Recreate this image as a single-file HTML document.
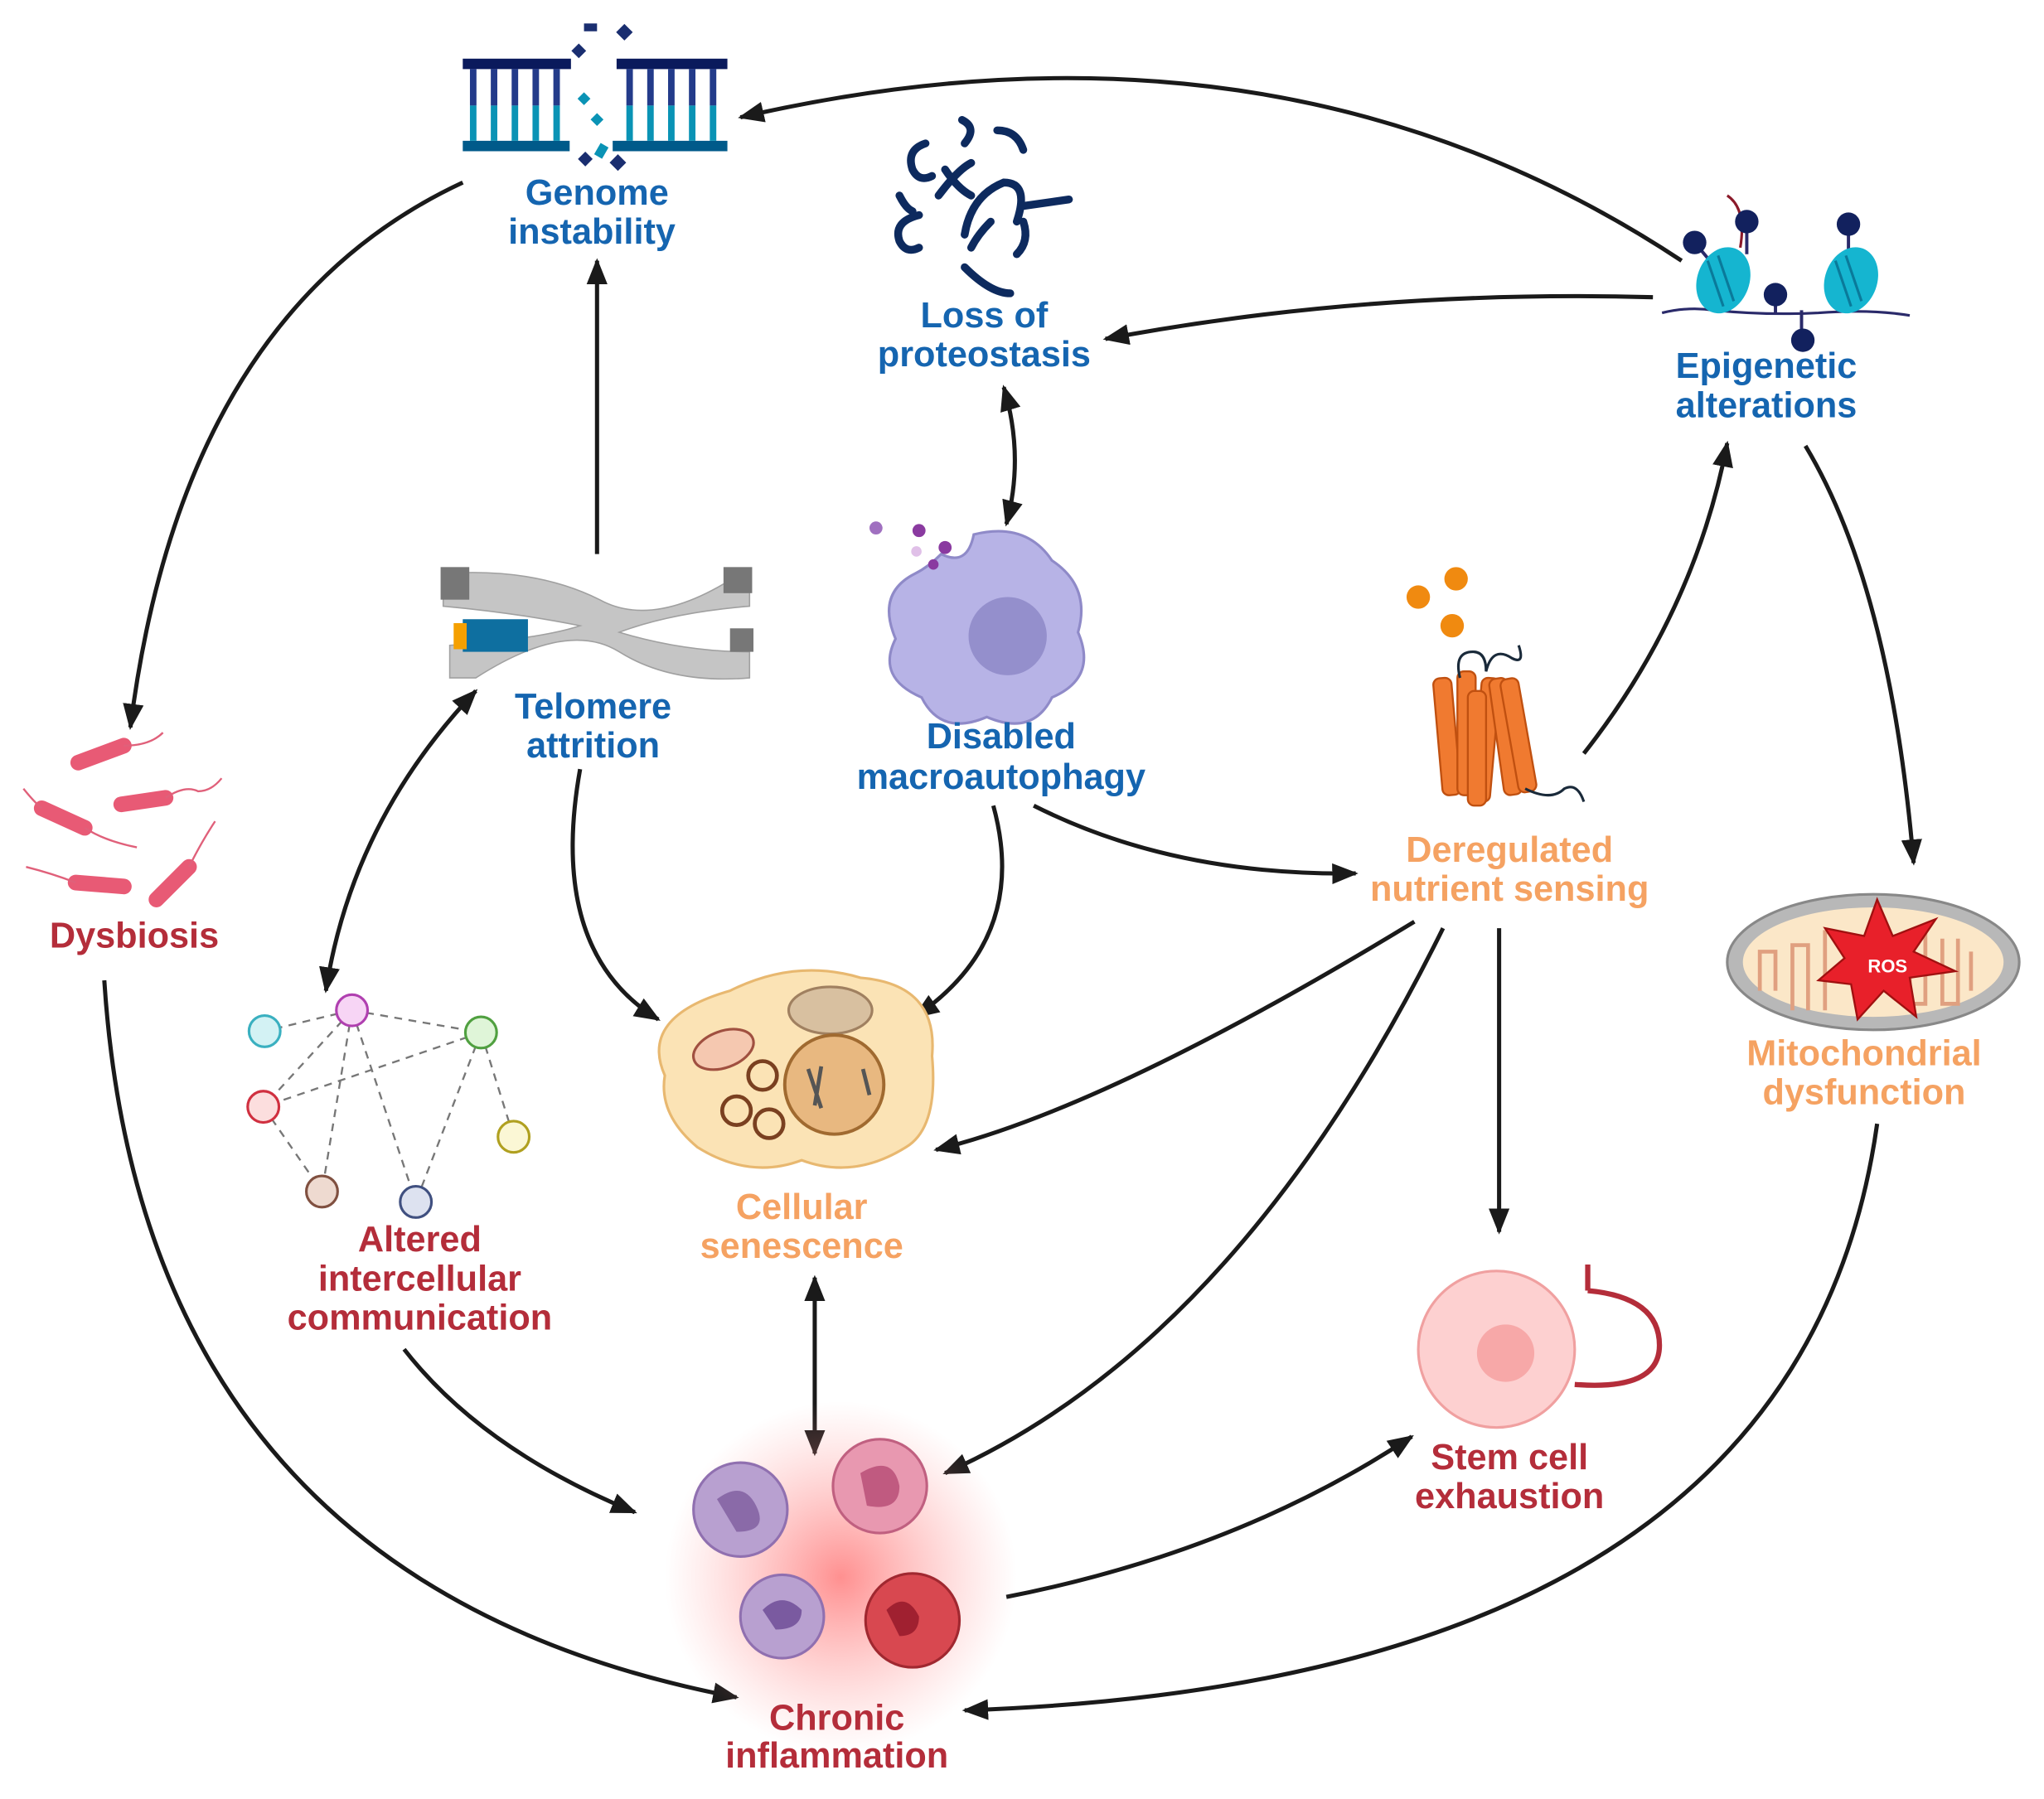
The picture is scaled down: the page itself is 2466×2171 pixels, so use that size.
<!DOCTYPE html>
<html><head><meta charset="utf-8"><style>
html,body{margin:0;padding:0;background:#fff;}
svg{display:block}
text{font-family:"Liberation Sans",Arial,sans-serif;font-weight:bold;font-size:27.5px;text-anchor:middle}
.b{fill:#1565b0}.o{fill:#f5a262}.r{fill:#b42d3a}
.a{fill:none;stroke:#1a1a1a;stroke-width:3.2}
</style></head><body>
<svg width="2466" height="2171" viewBox="0 0 1568 1380" preserveAspectRatio="none" xmlns="http://www.w3.org/2000/svg">
<defs>
<marker id="m" viewBox="0 0 20 20" refX="18" refY="10" markerWidth="20" markerHeight="20" orient="auto-start-reverse" markerUnits="userSpaceOnUse">
<path d="M0,2 L20,10 L0,18 z" fill="#1a1a1a"/></marker>
<radialGradient id="glow"><stop offset="0" stop-color="#ff6b6b" stop-opacity=".75"/><stop offset="1" stop-color="#ff9a9a" stop-opacity="0"/></radialGradient>
</defs>

<path class="a" d="M1290,200 Q980,-5 568,90" marker-end="url(#m)"/>
<path class="a" d="M355,140 Q140,240 100,558" marker-end="url(#m)"/>
<path class="a" d="M1268,228 Q1050,222 848,260" marker-end="url(#m)"/>
<path class="a" d="M458,425 L458,200" marker-end="url(#m)"/>
<path class="a" d="M770,297 Q786,350 772,402" marker-start="url(#m)" marker-end="url(#m)"/>
<path class="a" d="M1215,578 Q1300,470 1325,340" marker-end="url(#m)"/>
<path class="a" d="M1385,342 Q1450,450 1468,662" marker-end="url(#m)"/>
<path class="a" d="M365,530 Q270,630 250,760" marker-start="url(#m)" marker-end="url(#m)"/>
<path class="a" d="M445,590 Q420,730 505,782" marker-end="url(#m)"/>
<path class="a" d="M762,618 Q790,720 702,780" marker-end="url(#m)"/>
<path class="a" d="M793,618 Q900,672 1040,670" marker-end="url(#m)"/>
<path class="a" d="M1085,707 Q850,850 718,882" marker-end="url(#m)"/>
<path class="a" d="M1107,712 Q950,1030 725,1130" marker-end="url(#m)"/>
<path class="a" d="M1150,712 L1150,945" marker-end="url(#m)"/>
<path class="a" d="M625,980 L625,1115" marker-start="url(#m)" marker-end="url(#m)"/>
<path class="a" d="M310,1035 Q370,1112 487,1160" marker-end="url(#m)"/>
<path class="a" d="M80,752 Q110,1215 565,1302" marker-end="url(#m)"/>
<path class="a" d="M772,1225 Q950,1190 1083,1102" marker-end="url(#m)"/>
<path class="a" d="M1440,862 Q1380,1290 740,1312" marker-end="url(#m)"/>

<!-- DNA -->
<g>
<rect x="355" y="45" width="83" height="8" fill="#0a1a5c"/><rect x="473" y="45" width="85" height="8" fill="#0a1a5c"/>
<rect x="355" y="108" width="82" height="8" fill="#005a8a"/><rect x="470" y="108" width="88" height="8" fill="#005a8a"/>
<g stroke-width="5">
<path d="M363,53v28M379,53v28M395,53v28M411,53v28M427,53v28M483,53v28M499,53v28M515,53v28M531,53v28M547,53v28" stroke="#233b8a"/>
<path d="M363,81v27M379,81v27M395,81v27M411,81v27M427,81v27M483,81v27M499,81v27M515,81v27M531,81v27M547,81v27" stroke="#0a93b5"/>
</g>
<g fill="#0a93b5"><rect x="445" y="72" width="7" height="7" transform="rotate(45 448 75)"/><rect x="455" y="88" width="7" height="7" transform="rotate(45 458 91)"/><rect x="458" y="110" width="7" height="10" transform="rotate(30 460 115)"/></g>
<g fill="#1a2e70"><rect x="448" y="18" width="10" height="6"/><rect x="475" y="20" width="9" height="9" transform="rotate(45 479 24)"/><rect x="440" y="35" width="8" height="8" transform="rotate(45 444 39)"/><rect x="470" y="120" width="9" height="9" transform="rotate(45 474 124)"/><rect x="445" y="118" width="8" height="8" transform="rotate(45 449 122)"/></g>
</g>
<text class="b" x="458" y="157">Genome</text><text class="b" x="454" y="187">instability</text>

<g fill="none" stroke="#0d2a5e" stroke-width="6" stroke-linecap="round">
<path d="M710,110 q-15,5 -10,20 q5,10 15,5"/><path d="M740,110 q10,-12 -2,-18"/><path d="M765,100 q15,0 20,15"/>
<path d="M690,150 q5,10 10,12"/><path d="M720,150 q15,-20 25,-25"/><path d="M725,130 q10,15 20,20"/>
<path d="M740,180 q5,-30 30,-40 q20,0 10,30"/><path d="M785,158 l35,-5"/><path d="M705,165 q-20,5 -15,20 q5,10 15,5"/>
<path d="M760,170 q-10,10 -15,20"/><path d="M785,170 q5,15 -5,25"/><path d="M740,205 q20,20 35,20"/>
</g>
<text class="b" x="755" y="251">Loss of</text><text class="b" x="755" y="281">proteostasis</text>

<g>
<path d="M1275,240 q20,-5 40,-2 q40,4 80,2 q40,-3 70,2" fill="none" stroke="#2a2a6a" stroke-width="2"/>
<path d="M1325,150 q15,10 10,40" fill="none" stroke="#8b1a2a" stroke-width="2"/>
<g stroke="#2a2a6a" stroke-width="2.5"><path d="M1300,186 l15,18M1340,170 v25M1362,226 v14M1382,238 v22M1418,172 v25"/></g>
<ellipse cx="1322" cy="215" rx="20" ry="26" fill="#15b5d0" transform="rotate(20 1322 215)"/>
<ellipse cx="1420" cy="215" rx="20" ry="26" fill="#15b5d0" transform="rotate(20 1420 215)"/>
<g stroke="#0a7a9a" stroke-width="2" fill="none"><path d="M1310,200 l12,35M1318,196 l12,35M1408,200 l12,35M1416,196 l12,35"/></g>
<g fill="#12215e"><circle cx="1300" cy="186" r="9"/><circle cx="1340" cy="170" r="9"/><circle cx="1362" cy="226" r="9"/><circle cx="1383" cy="261" r="9"/><circle cx="1418" cy="172" r="9"/></g>
</g>
<text class="b" x="1355" y="290">Epigenetic</text><text class="b" x="1355" y="320">alterations</text>

<g>
<path d="M340,440 q70,-5 120,20 q40,22 100,-15 l15,0 l0,20 q-60,5 -100,20 q50,15 100,15 l0,20 q-60,5 -100,-20 q-40,-25 -110,20 l-20,0 l0,-25 q70,-5 100,-15 q-50,-10 -105,-15 z" fill="#c5c5c5" stroke="#a0a0a0"/>
<rect x="338" y="435" width="22" height="25" fill="#777"/><rect x="555" y="435" width="22" height="20" fill="#777"/><rect x="560" y="482" width="18" height="18" fill="#777"/>
<rect x="355" y="475" width="50" height="25" fill="#0e6fa0"/><rect x="348" y="478" width="10" height="20" fill="#f5a000"/>
</g>
<text class="b" x="455" y="551">Telomere</text><text class="b" x="455" y="581">attrition</text>

<g>
<path d="M722,425 q20,10 25,-15 q40,-10 60,20 q30,20 20,55 q15,35 -20,50 q-15,30 -50,15 q-35,15 -50,-15 q-35,-15 -20,-45 q-15,-35 15,-50 q10,-5 20,-15z" fill="#b7b3e6" stroke="#8f8ac8" stroke-width="2"/>
<circle cx="773" cy="488" r="30" fill="#948fcc"/>
<g fill="#8a3aa0"><circle cx="672" cy="405" r="5" fill="#a070c0"/><circle cx="705" cy="407" r="5"/><circle cx="725" cy="420" r="5"/><circle cx="703" cy="423" r="4" fill="#e0c0e8"/><circle cx="716" cy="433" r="4"/></g>
</g>
<text class="b" x="768" y="574">Disabled</text><text class="b" x="768" y="605">macroautophagy</text>

<g>
<circle cx="1088" cy="458" r="9" fill="#f08a10"/><circle cx="1117" cy="444" r="9" fill="#f08a10"/><circle cx="1114" cy="480" r="9" fill="#f08a10"/>
<g fill="#f07a30" stroke="#c05010" stroke-width="1.5">
<rect x="1103" y="520" width="14" height="90" rx="5" transform="rotate(-5 1110 565)"/><rect x="1118" y="515" width="14" height="95" rx="5"/><rect x="1133" y="520" width="14" height="95" rx="5" transform="rotate(5 1140 565)"/><rect x="1148" y="520" width="14" height="90" rx="5" transform="rotate(-8 1155 565)"/><rect x="1158" y="520" width="14" height="88" rx="5" transform="rotate(-10 1165 565)"/><rect x="1126" y="530" width="14" height="88" rx="5"/>
</g>
<path d="M1120,520 q-5,-20 10,-20 q10,0 10,15 q5,-20 20,-10 q10,5 5,-10 M1170,605 q20,10 30,0 q10,-5 15,10" fill="none" stroke="#1a2a3a" stroke-width="2"/>
</g>
<text class="o" x="1158" y="661">Deregulated</text><text class="o" x="1158" y="691">nutrient sensing</text>

<g stroke="#e85a75" stroke-width="12" stroke-linecap="round">
<path d="M60,585 l35,-13M32,620 l33,15M93,617 l34,-5M58,677 l37,3M120,690 l25,-25"/></g>
<g fill="none" stroke="#e0607a" stroke-width="1.5"><path d="M95,572 q20,0 30,-10M18,605 q8,10 14,15M127,612 q15,-10 25,-5 q10,0 18,-10M20,665 q20,5 38,12M145,665 q10,-20 20,-35M65,635 q15,10 40,15"/></g>
<text class="r" x="103" y="727">Dysbiosis</text>

<g>
<ellipse cx="1437" cy="738" rx="112" ry="52" fill="#b8b8b8" stroke="#888" stroke-width="2"/>
<ellipse cx="1437" cy="738" rx="100" ry="42" fill="#fbe7c8"/>
<g fill="none" stroke="#e0a080" stroke-width="3"><path d="M1350,760 v-30 h12 v30 M1375,775 v-50 h12 v50 M1400,775 v-60 h12 M1465,715 v55 h12 v-55 M1490,720 v50 h12 v-50 M1512,730 v30"/></g>
<polygon points="1440,690 1452,718 1485,705 1468,730 1500,745 1465,750 1470,780 1445,760 1425,782 1420,755 1395,752 1415,735 1400,712 1430,718" fill="#e8202a" stroke="#a01010" stroke-width="1.5"/>
<text x="1448" y="746" style="font-size:14px;fill:#fff">ROS</text>
</g>
<text class="o" x="1430" y="817">Mitochondrial</text><text class="o" x="1430" y="847">dysfunction</text>

<g stroke="#777" stroke-width="1.5" stroke-dasharray="6,5" fill="none">
<path d="M270,775 L203,791 M270,775 L369,792 M270,775 L202,849 M270,775 L247,914 M270,775 L319,922 M369,792 L202,849 M369,792 L319,922 M369,792 L394,872 M202,849 L247,914"/></g>
<circle cx="203" cy="791" r="12" fill="#d3f2f4" stroke="#3ab0c0" stroke-width="2"/>
<circle cx="270" cy="775" r="12" fill="#f7d5f5" stroke="#b040b0" stroke-width="2"/>
<circle cx="369" cy="792" r="12" fill="#dff5d8" stroke="#50a040" stroke-width="2"/>
<circle cx="202" cy="849" r="12" fill="#fcdede" stroke="#d03040" stroke-width="2"/>
<circle cx="394" cy="872" r="12" fill="#fbf7d5" stroke="#b0a020" stroke-width="2"/>
<circle cx="247" cy="914" r="12" fill="#eedad0" stroke="#805040" stroke-width="2"/>
<circle cx="319" cy="922" r="12" fill="#dde2f0" stroke="#405080" stroke-width="2"/>
<text class="r" x="322" y="960">Altered</text><text class="r" x="322" y="990">intercellular</text><text class="r" x="322" y="1020">communication</text>

<g>
<path d="M560,760 q50,-25 100,-10 q60,5 55,60 q5,55 -20,70 q-40,25 -80,10 q-40,15 -80,-10 q-30,-25 -25,-55 q-20,-45 50,-65z" fill="#fbe3b5" stroke="#e8b870" stroke-width="2"/>
<ellipse cx="637" cy="775" rx="32" ry="18" fill="#d8c0a0" stroke="#a08060" stroke-width="2"/>
<circle cx="640" cy="832" r="38" fill="#e8b880" stroke="#a06a30" stroke-width="2.5"/>
<path d="M620,820 l10,30 M630,818 l-5,30 M662,820 l5,20" stroke="#555" stroke-width="3"/>
<ellipse cx="555" cy="805" rx="24" ry="14" fill="#f5c8b0" stroke="#a05040" stroke-width="2" transform="rotate(-20 555 805)"/>
<g fill="none" stroke="#7a4020" stroke-width="3"><circle cx="585" cy="825" r="11"/><circle cx="565" cy="852" r="11"/><circle cx="590" cy="862" r="11"/></g>
</g>
<text class="o" x="615" y="935">Cellular</text><text class="o" x="615" y="965">senescence</text>

<circle cx="1148" cy="1035" r="60" fill="#fdd0d0" stroke="#f0a0a0" stroke-width="2"/>
<circle cx="1155" cy="1038" r="22" fill="#f7a8a8"/>
<path d="M1218,990 q55,5 55,42 q0,35 -65,30" fill="none" stroke="#b42d3a" stroke-width="4"/>
<path d="M1218,990 v-20" stroke="#b42d3a" stroke-width="4"/>
<text class="r" x="1158" y="1127">Stem cell</text><text class="r" x="1158" y="1157">exhaustion</text>

<circle cx="645" cy="1210" r="135" fill="url(#glow)"/>
<circle cx="568" cy="1158" r="36" fill="#b8a0d0" stroke="#9070b0" stroke-width="2"/>
<path d="M550,1150 q20,-15 30,5 q10,20 -15,20" fill="#8a6aa8"/>
<circle cx="675" cy="1140" r="36" fill="#e898b0" stroke="#c06080" stroke-width="2"/>
<path d="M660,1130 q25,-15 30,10 q0,20 -25,15" fill="#c05a80"/>
<circle cx="600" cy="1240" r="32" fill="#b8a0d0" stroke="#9070b0" stroke-width="2"/>
<path d="M585,1235 q15,-15 30,0 q0,15 -20,15" fill="#7a5aa0"/>
<circle cx="700" cy="1243" r="36" fill="#d84850" stroke="#a02830" stroke-width="2"/>
<path d="M680,1235 q15,-15 25,5 q0,15 -15,15" fill="#a02030"/>
<text class="r" x="642" y="1327">Chronic</text><text class="r" x="642" y="1356">inflammation</text>
</svg>
</body></html>
